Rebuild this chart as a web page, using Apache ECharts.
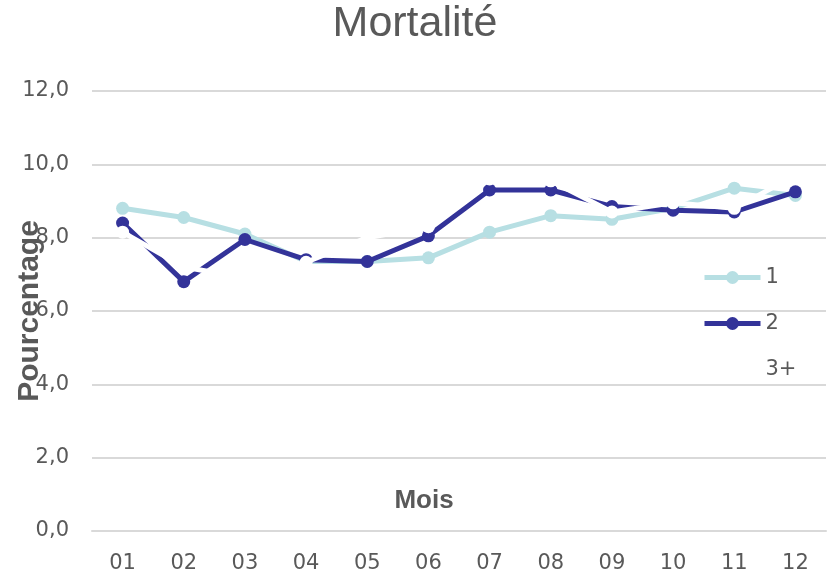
<!DOCTYPE html>
<html lang="fr">
<head>
    <meta charset="UTF-8">
    <title>Mortalité</title>
    <script src="https://cdn.jsdelivr.net/npm/echarts@6/dist/echarts.min.js"></script>
    <style>
        html, body { margin: 0; padding: 0; background: #fff; }
    </style>
</head>
<body>
    <div id="main" style="width: 830px;height: 577px"></div>
    <script type="text/javascript">
        var mois = ['01', '02', '03', '04', '05', '06', '07', '08', '09', '10', '11', '12'];
        var serie1 = [8.8, 8.55, 8.1, 7.35, 7.35, 7.45, 8.15, 8.6, 8.5, 8.8, 9.35, 9.15];
        var serie2 = [8.4, 6.8, 7.95, 7.4, 7.35, 8.05, 9.3, 9.3, 8.85, 8.75, 8.7, 9.25];
        // la série 3+ est blanche dans l'original
        var serie3 = [8.15, 7.2, 6.9, 7.33, 8.0, 8.3, 9.6, 9.55, 8.7, 8.95, 8.8, 9.7];

        var grey = '#595959';

        function ligne(nom, data, couleur, z) {
            return {
                name: nom,
                type: 'line',
                data: data,
                z: z,
                symbol: 'circle',
                symbolSize: 13,
                lineStyle: { color: couleur, width: 5 },
                itemStyle: { color: couleur },
                emphasis: { disabled: true }
            };
        }

        var option = {
            backgroundColor: '#fff',
            animation: false,
            title: {
                text: 'Mortalité',
                left: 'center',
                top: -2,
                textStyle: { fontFamily: 'Liberation Sans', fontSize: 43, fontWeight: 'normal', color: grey }
            },
            legend: {
                orient: 'vertical',
                left: 697,
                top: 262,
                itemWidth: 56,
                itemHeight: 16,
                itemGap: 25,
                lineStyle: { width: 5 },
                textStyle: { fontFamily: 'DejaVu Sans', fontSize: 21, color: grey },
                data: ['1', '2', '3+']
            },
            grid: { left: 92, right: 4, top: 91, bottom: 46, outerBoundsMode: 'none' },
            xAxis: {
                type: 'category',
                data: mois,
                name: 'Mois',
                nameLocation: 'middle',
                nameGap: -43,
                nameMoveOverlap: false,
                nameTextStyle: { fontFamily: 'Liberation Sans', fontSize: 26, fontWeight: 'bold', color: grey, padding: [0, 70, 0, 0] },
                axisLine: { show: true, lineStyle: { color: '#d9d9d9', width: 2 } },
                axisTick: { show: false },
                axisLabel: { margin: 22, fontFamily: 'DejaVu Sans', fontSize: 21, color: grey }
            },
            yAxis: {
                type: 'value',
                min: 0,
                max: 12,
                interval: 2,
                name: 'Pourcentage',
                nameLocation: 'middle',
                nameGap: 47,
                nameMoveOverlap: false,
                nameRotate: 90,
                nameTextStyle: { fontFamily: 'Liberation Sans', fontSize: 30, fontWeight: 'bold', color: grey },
                axisLine: { show: false },
                axisTick: { show: false },
                splitLine: { lineStyle: { color: '#d9d9d9', width: 2 } },
                axisLabel: {
                    margin: 23,
                    fontFamily: 'DejaVu Sans',
                    fontSize: 21,
                    color: grey,
                    formatter: function (v) { return v.toFixed(1).replace('.', ','); }
                }
            },
            series: [
                ligne('1', serie1, '#b7dfe3', 2),
                ligne('2', serie2, '#333399', 3),
                ligne('3+', serie3, '#ffffff', 4)
            ]
        };

        var myChart = echarts.init(document.getElementById('main'));
        myChart.setOption(option);
    </script>
</body>
</html>
